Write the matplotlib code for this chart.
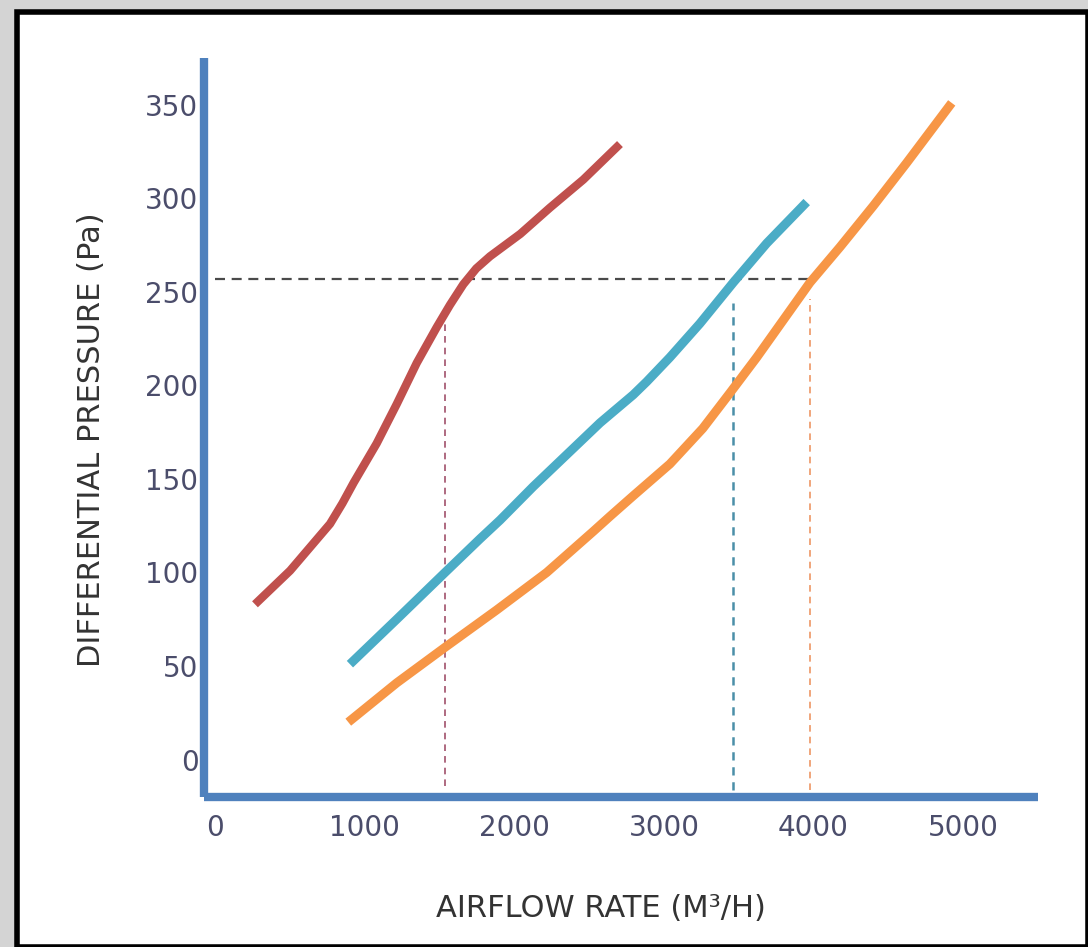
import matplotlib
matplotlib.use("Agg")
import matplotlib.pyplot as plt
from matplotlib.patches import Rectangle

# curve data (airflow m3/h, pressure Pa)
red_x = [265, 500, 767, 850, 925, 1079, 1213, 1347, 1480, 1569, 1658, 1745, 1837,
         2040, 2238, 2461, 2706]
red_y = [83, 101, 126, 137, 148, 169, 190, 212, 231, 243, 254, 262.5, 269,
         281, 295, 310, 329]

teal_x = [900, 1213, 1536, 1770, 1904, 2127, 2350, 2573, 2795, 2885, 3040, 3240, 3464,
          3688, 3955]
teal_y = [51, 75, 100, 118, 128, 146, 163, 180, 195, 202, 215, 233, 255,
          276, 298]

orange_x = [889, 1213, 1536, 1882, 2216, 2528, 2639, 2795, 3040, 3260, 3442, 3621,
            3799, 3977, 4178, 4401, 4624, 4925]
orange_y = [20, 41, 60, 80, 100, 122, 130, 141, 158, 177, 196, 215,
            235, 255, 274, 296, 319, 351]

# reference lines
ref_pressure = 257
ref_x_end = 3977
red_cross = 1536
teal_cross = 3460
orange_cross = 3975

x_ticks = [0, 1000, 2000, 3000, 4000, 5000]
y_ticks = [0, 50, 100, 150, 200, 250, 300, 350]

W, H = 1088, 947
fig = plt.figure(figsize=(W / 100, H / 100), dpi=100)
fig.patch.set_facecolor("#d4d4d4")

# white card with black frame
card = Rectangle((17 / W, 0), 1 - 17 / W, 1 - 12 / H, transform=fig.transFigure,
                 facecolor="white", edgecolor="black", linewidth=4, zorder=-10)
fig.patches.append(card)

ax = fig.add_axes([204 / W, 1 - 797 / H, (1038 - 204) / W, (797 - 58) / H])
ax.set_facecolor("none")

ax.set_xlim(-76, 5502)
ax.set_ylim(-20, 375)

for s in ["top", "right"]:
    ax.spines[s].set_visible(False)
for s in ["left", "bottom"]:
    ax.spines[s].set_color("#4f81bd")
    ax.spines[s].set_linewidth(6)
    ax.spines[s].set_capstyle("butt")

ax.set_xticks(x_ticks)
ax.set_yticks(y_ticks)
ax.tick_params(length=0, labelsize=20, labelcolor="#4b4d6b")
ax.tick_params(axis="x", pad=12)
ax.tick_params(axis="y", pad=4)

# dashed guide lines
ax.plot([0, ref_x_end], [ref_pressure, ref_pressure], color="#4a4a4a", lw=1.6,
        dashes=(4.5, 3), zorder=2)
ax.plot([red_cross, red_cross], [-14, 236], color="#a0506a", lw=1.4, dashes=(3.4, 2.6),
        alpha=0.85, zorder=2)
ax.plot([teal_cross, teal_cross], [-16, 244], color="#4a8fa8", lw=1.8, dashes=(3.3, 2.7), zorder=2)
ax.plot([orange_cross, orange_cross], [-16, 246], color="#f0a57a", lw=1.4, dashes=(3.4, 2.6), zorder=2)

# curves
kw = dict(solid_capstyle="butt", solid_joinstyle="round", zorder=3)
ax.plot(red_x, red_y, color="#c0504d", lw=6, **kw)
ax.plot(teal_x, teal_y, color="#4bacc6", lw=6.5, **kw)
ax.plot(orange_x, orange_y, color="#f79646", lw=6.5, **kw)

ax.set_xlabel("AIRFLOW RATE (M³/H)", fontsize=22, color="#333333")
ax.set_ylabel("DIFFERENTIAL PRESSURE (Pa)", fontsize=22, color="#333333")
ax.xaxis.set_label_coords(0.476, -0.131)
ax.yaxis.set_label_coords(-0.1175, 0.484)

fig.savefig("out.png", dpi=100, facecolor=fig.get_facecolor())
